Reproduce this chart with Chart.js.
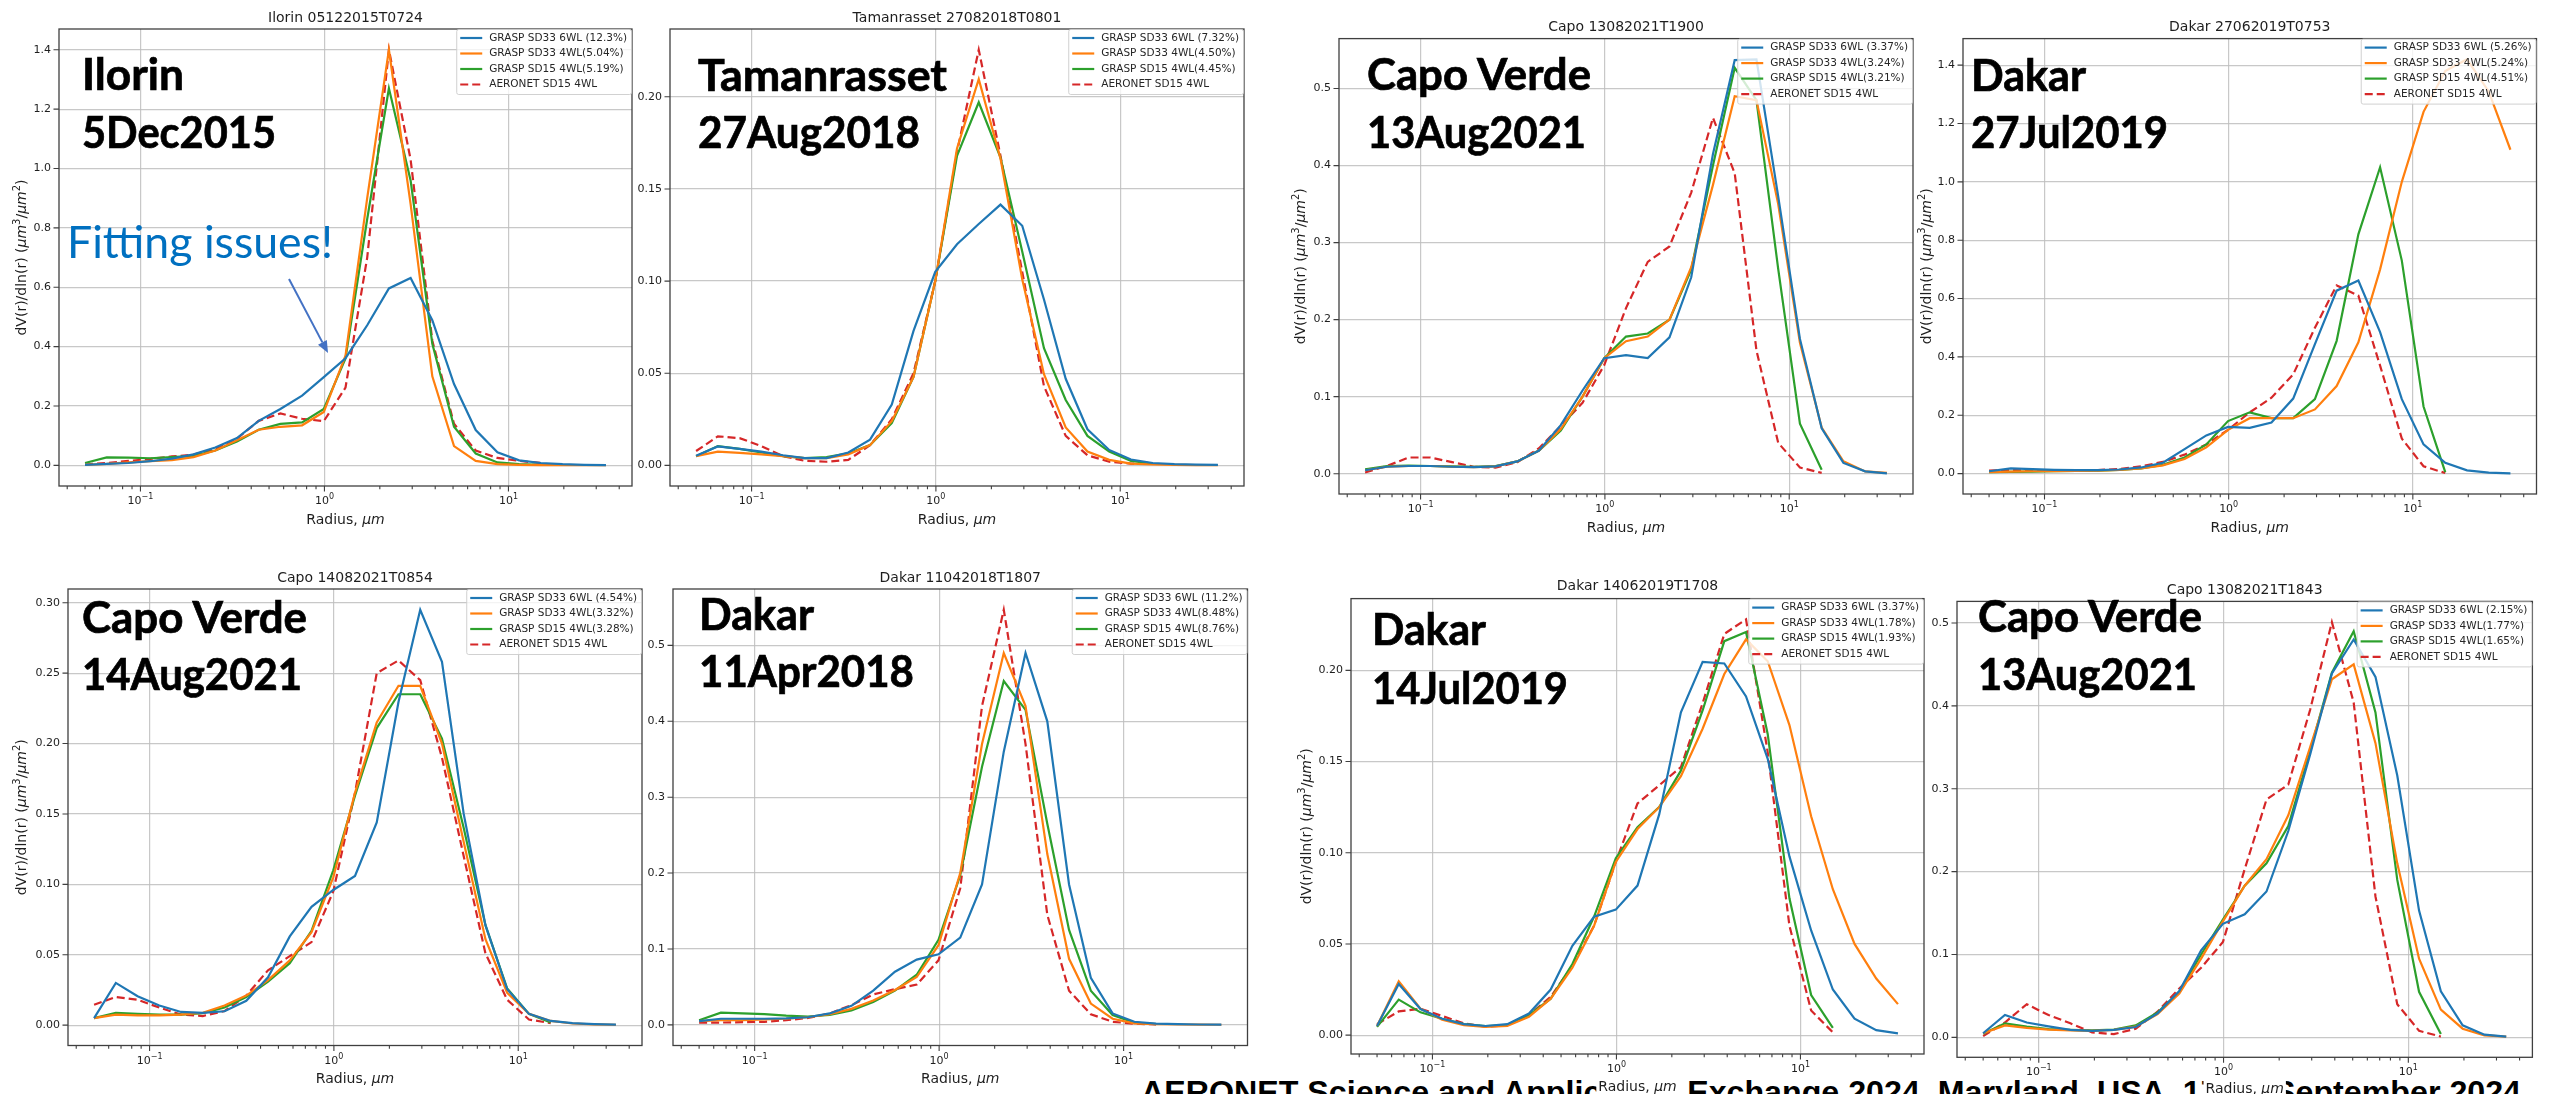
<!DOCTYPE html>
<html>
<head>
<meta charset="utf-8">
<title>Volume size distributions: GRASP vs AERONET</title>
<script src="https://cdn.jsdelivr.net/npm/chart.js@4.4.1/dist/chart.umd.min.js"></script>
<style>
  html, body { margin: 0; padding: 0; background: #fff; width: 2552px; height: 1094px; overflow: hidden; }
  #page { position: relative; width: 2552px; height: 1094px; overflow: hidden; background: #fff; }
  svg.layer { position: absolute; left: 0; top: 0; pointer-events: none; }
</style>
</head>
<body>
<div id="page">
  <svg class="layer" width="2552" height="1094" style="z-index:0">
    <text x="1141" y="1103" font-family="'Liberation Sans', Arial, sans-serif" font-weight="700" font-size="32"
          fill="#000" textLength="1380" lengthAdjust="spacingAndGlyphs">AERONET Science and Application Exchange 2024, Maryland, USA, 17-19 September 2024</text>
  </svg>
  <svg class="layer" width="2552" height="1094" style="z-index:3">
    <g font-family="Lato, 'Open Sans', sans-serif" font-weight="700" font-size="44" fill="#000"
       stroke="#000" stroke-width="0.7">
      <text x="82" y="90" textLength="102" lengthAdjust="spacingAndGlyphs">Ilorin</text>
      <text x="82" y="148" textLength="194" lengthAdjust="spacingAndGlyphs">5Dec2015</text>
      <text x="698" y="91" textLength="249" lengthAdjust="spacingAndGlyphs">Tamanrasset</text>
      <text x="698" y="148" textLength="222" lengthAdjust="spacingAndGlyphs">27Aug2018</text>
      <text x="1367" y="90" textLength="224" lengthAdjust="spacingAndGlyphs">Capo Verde</text>
      <text x="1367" y="148" textLength="219" lengthAdjust="spacingAndGlyphs">13Aug2021</text>
      <text x="1971" y="91" textLength="115" lengthAdjust="spacingAndGlyphs">Dakar</text>
      <text x="1971" y="148" textLength="197" lengthAdjust="spacingAndGlyphs">27Jul2019</text>
      <text x="82" y="633" textLength="225" lengthAdjust="spacingAndGlyphs">Capo Verde</text>
      <text x="82" y="690" textLength="220" lengthAdjust="spacingAndGlyphs">14Aug2021</text>
      <text x="699" y="630" textLength="115" lengthAdjust="spacingAndGlyphs">Dakar</text>
      <text x="699" y="687" textLength="215" lengthAdjust="spacingAndGlyphs">11Apr2018</text>
      <text x="1372" y="645" textLength="114" lengthAdjust="spacingAndGlyphs">Dakar</text>
      <text x="1372" y="704" textLength="196" lengthAdjust="spacingAndGlyphs">14Jul2019</text>
      <text x="1978" y="632" textLength="224" lengthAdjust="spacingAndGlyphs">Capo Verde</text>
      <text x="1978" y="690" textLength="219" lengthAdjust="spacingAndGlyphs">13Aug2021</text>
    </g>
    <text x="67" y="258" font-family="Lato, 'Open Sans', sans-serif" font-size="45" fill="#0070C0"
          textLength="266" lengthAdjust="spacingAndGlyphs">Fitting issues!</text>
    <line x1="289" y1="279" x2="322.4" y2="342.4" stroke="#4472C4" stroke-width="2"/>
    <polygon points="328,353 318.0,344.7 326.8,340.1" fill="#4472C4"/>
  </svg>
</div>
<script>
// ---------------- radius bins (µm) ----------------
const radius22 = [0.05, 0.0656, 0.0861, 0.1129, 0.1482, 0.1944, 0.2551, 0.3347, 0.4392, 0.5762, 0.7561,
                  0.9920, 1.3016, 1.7078, 2.2407, 2.9400, 3.8575, 5.0613, 6.6407, 8.7131, 11.4323, 15.0];
const radius25 = [0.05, 0.0656, 0.0861, 0.1129, 0.1482, 0.1944, 0.2551, 0.3347, 0.4392, 0.5762, 0.7561,
                  0.9920, 1.3016, 1.7078, 2.2407, 2.9400, 3.8575, 5.0613, 6.6407, 8.7131, 11.4323, 15.0,
                  19.681, 25.823, 33.882];

// ---------------- axis ticks ----------------
const radiusMajorTicks = [0.1, 1, 10];
const radiusMajorExponents = ['\u22121', '0', '1'];   // drawn as 10^e
const radiusMinorTicks = [0.04, 0.05, 0.06, 0.07, 0.08, 0.09, 0.2, 0.3, 0.4, 0.5, 0.6, 0.7, 0.8, 0.9,
                          2, 3, 4, 5, 6, 7, 8, 9, 20, 30, 40];

const ilorinYTicks   = ['0.0', '0.2', '0.4', '0.6', '0.8', '1.0', '1.2', '1.4'];
const tamYTicks      = ['0.00', '0.05', '0.10', '0.15', '0.20'];
const capo1900YTicks = ['0.0', '0.1', '0.2', '0.3', '0.4', '0.5'];
const dak27YTicks    = ['0.0', '0.2', '0.4', '0.6', '0.8', '1.0', '1.2', '1.4'];
const capo14YTicks   = ['0.00', '0.05', '0.10', '0.15', '0.20', '0.25', '0.30'];
const dak11YTicks    = ['0.0', '0.1', '0.2', '0.3', '0.4', '0.5'];
const dak14YTicks    = ['0.00', '0.05', '0.10', '0.15', '0.20'];
const capo1843YTicks = ['0.0', '0.1', '0.2', '0.3', '0.4', '0.5'];

// ---------------- legend labels ----------------
const ilorinLegend   = ['GRASP SD33 6WL (12.3%)', 'GRASP SD33 4WL(5.04%)', 'GRASP SD15 4WL(5.19%)', 'AERONET SD15 4WL'];
const tamLegend      = ['GRASP SD33 6WL (7.32%)', 'GRASP SD33 4WL(4.50%)', 'GRASP SD15 4WL(4.45%)', 'AERONET SD15 4WL'];
const capo1900Legend = ['GRASP SD33 6WL (3.37%)', 'GRASP SD33 4WL(3.24%)', 'GRASP SD15 4WL(3.21%)', 'AERONET SD15 4WL'];
const dak27Legend    = ['GRASP SD33 6WL (5.26%)', 'GRASP SD33 4WL(5.24%)', 'GRASP SD15 4WL(4.51%)', 'AERONET SD15 4WL'];
const capo14Legend   = ['GRASP SD33 6WL (4.54%)', 'GRASP SD33 4WL(3.32%)', 'GRASP SD15 4WL(3.28%)', 'AERONET SD15 4WL'];
const dak11Legend    = ['GRASP SD33 6WL (11.2%)', 'GRASP SD33 4WL(8.48%)', 'GRASP SD15 4WL(8.76%)', 'AERONET SD15 4WL'];
const dak14Legend    = ['GRASP SD33 6WL (3.37%)', 'GRASP SD33 4WL(1.78%)', 'GRASP SD15 4WL(1.93%)', 'AERONET SD15 4WL'];
const capo1843Legend = ['GRASP SD33 6WL (2.15%)', 'GRASP SD33 4WL(1.77%)', 'GRASP SD15 4WL(1.65%)', 'AERONET SD15 4WL'];

// ---------------- dV(r)/dln(r) series ----------------
// Ilorin 05122015T0724
const ilorinSD33_6WL = [0.002,0.005,0.008,0.014,0.023,0.037,0.060,0.092,0.150,0.190,0.235,0.297,0.361,0.472,0.596,0.631,0.489,0.274,0.119,0.044,0.017,0.008,0.004,0.002,0.001];
const ilorinSD33_4WL = [0.002,0.005,0.010,0.014,0.018,0.028,0.050,0.085,0.120,0.130,0.135,0.180,0.370,0.900,1.400,0.880,0.300,0.065,0.015,0.004,0.002,0.001,0.001,0.0005,0.0005];
const ilorinSD15_4WL = [0.008,0.027,0.026,0.024,0.028,0.032,0.050,0.080,0.120,0.140,0.145,0.190,0.360,0.830,1.270,0.960,0.410,0.130,0.040,0.010,0.004,0.002];
const ilorinAeronet  = [0.003,0.008,0.015,0.022,0.030,0.036,0.055,0.090,0.150,0.175,0.157,0.149,0.262,0.700,1.400,1.030,0.420,0.140,0.050,0.025,0.015,0.008];

// Tamanrasset 27082018T0801
const tamSD33_6WL = [0.0052,0.0103,0.0090,0.0075,0.0055,0.0040,0.0040,0.0070,0.0140,0.0330,0.0730,0.1050,0.1200,0.1310,0.1415,0.1300,0.0900,0.0470,0.0196,0.0084,0.0032,0.0013,0.0007,0.0004,0.0003];
const tamSD33_4WL = [0.0050,0.0075,0.0068,0.0060,0.0050,0.0040,0.0040,0.0060,0.0110,0.0240,0.0480,0.1000,0.1720,0.2095,0.1665,0.1010,0.0495,0.0206,0.0075,0.0030,0.0010,0.0005,0.0003,0.0002,0.0001];
const tamSD15_4WL = [0.0050,0.0105,0.0090,0.0070,0.0050,0.0040,0.0045,0.0065,0.0110,0.0230,0.0480,0.1000,0.1680,0.1970,0.1670,0.1160,0.0636,0.0355,0.0160,0.0075,0.0025,0.0010];
const tamAeronet  = [0.0078,0.0158,0.0148,0.0105,0.0050,0.0025,0.0020,0.0030,0.0110,0.0250,0.0500,0.1000,0.1700,0.2255,0.1680,0.1050,0.0430,0.0160,0.0055,0.0020,0.0010,0.0008];

// Capo 13082021T1900
const capo1900SD33_6WL = [0.0045,0.0090,0.0100,0.0100,0.0090,0.0085,0.0094,0.0160,0.0300,0.0630,0.1080,0.1500,0.1540,0.1500,0.1770,0.2550,0.4150,0.5370,0.5380,0.3600,0.1750,0.0590,0.0140,0.0030,0.0005];
const capo1900SD33_4WL = [0.0045,0.0090,0.0100,0.0100,0.0090,0.0085,0.0094,0.0160,0.0300,0.0580,0.1000,0.1500,0.1720,0.1780,0.2000,0.2680,0.3750,0.4900,0.4850,0.3500,0.1700,0.0600,0.0160,0.0030,0.0010];
const capo1900SD15_4WL = [0.0055,0.0100,0.0105,0.0100,0.0095,0.0090,0.0100,0.0160,0.0300,0.0560,0.1000,0.1500,0.1780,0.1820,0.2000,0.2650,0.4000,0.5270,0.4850,0.2660,0.0650,0.0050];
const capo1900Aeronet  = [0.0015,0.0100,0.0210,0.0210,0.0150,0.0090,0.0080,0.0150,0.0330,0.0620,0.0920,0.1410,0.2150,0.2750,0.2950,0.3650,0.4620,0.3900,0.1600,0.0400,0.0080,0.0010];

// Dakar 27062019T0753
const dak27SD33_6WL = [0.008,0.018,0.015,0.013,0.012,0.012,0.014,0.021,0.037,0.084,0.131,0.160,0.157,0.175,0.257,0.444,0.627,0.662,0.485,0.255,0.100,0.037,0.011,0.003,0.001];
const dak27SD33_4WL = [0.005,0.007,0.008,0.008,0.009,0.010,0.013,0.018,0.028,0.050,0.090,0.150,0.190,0.190,0.190,0.220,0.300,0.450,0.700,1.000,1.240,1.380,1.420,1.310,1.110];
const dak27SD15_4WL = [0.005,0.006,0.007,0.008,0.009,0.010,0.013,0.018,0.030,0.055,0.100,0.180,0.210,0.190,0.190,0.255,0.455,0.820,1.050,0.730,0.230,0.005];
const dak27Aeronet  = [0.010,0.012,0.011,0.010,0.010,0.012,0.016,0.025,0.040,0.065,0.100,0.150,0.210,0.260,0.340,0.500,0.645,0.610,0.370,0.120,0.025,0.002];

// Capo 14082021T0854
const capo14SD33_6WL = [0.005,0.030,0.0205,0.014,0.0094,0.0087,0.0099,0.0173,0.034,0.063,0.084,0.096,0.106,0.144,0.2295,0.295,0.258,0.150,0.071,0.0255,0.008,0.003,0.0015,0.0008,0.0004];
const capo14SD33_4WL = [0.005,0.0075,0.007,0.007,0.0075,0.0088,0.014,0.021,0.032,0.046,0.066,0.105,0.165,0.215,0.241,0.241,0.200,0.130,0.061,0.023,0.008,0.003,0.0012,0.0006,0.0003];
const capo14SD15_4WL = [0.005,0.0088,0.008,0.0075,0.0075,0.0085,0.0125,0.020,0.031,0.044,0.067,0.110,0.163,0.211,0.235,0.235,0.2035,0.140,0.071,0.026,0.008,0.002];
const capo14Aeronet  = [0.0145,0.020,0.018,0.0125,0.0075,0.0065,0.010,0.021,0.039,0.049,0.059,0.095,0.165,0.250,0.259,0.245,0.190,0.120,0.051,0.018,0.004,0.0015];

// Dakar 11042018T1807
const dak11SD33_6WL = [0.005,0.008,0.008,0.008,0.0085,0.010,0.015,0.025,0.045,0.070,0.086,0.093,0.115,0.185,0.360,0.490,0.400,0.185,0.062,0.015,0.004,0.0015,0.0008,0.0004,0.0002];
const dak11SD33_4WL = [0.005,0.006,0.006,0.007,0.008,0.010,0.014,0.021,0.032,0.046,0.063,0.105,0.200,0.370,0.490,0.420,0.225,0.087,0.028,0.008,0.002,0.0008,0.0004,0.0002,0.0001];
const dak11SD15_4WL = [0.006,0.016,0.015,0.014,0.012,0.011,0.013,0.019,0.030,0.045,0.066,0.112,0.197,0.340,0.453,0.415,0.265,0.125,0.045,0.013,0.003,0.001];
const dak11Aeronet  = [0.003,0.003,0.0035,0.004,0.006,0.009,0.015,0.026,0.040,0.047,0.053,0.085,0.180,0.420,0.547,0.370,0.145,0.045,0.014,0.004,0.0015,0.0005];

// Dakar 14062019T1708
const dak14SD33_6WL = [0.005,0.028,0.0143,0.009,0.006,0.005,0.006,0.0118,0.025,0.049,0.065,0.0688,0.082,0.121,0.177,0.2047,0.2038,0.1857,0.1515,0.098,0.0574,0.025,0.009,0.0027,0.001];
const dak14SD33_4WL = [0.005,0.0295,0.0145,0.0085,0.0055,0.0045,0.005,0.010,0.020,0.037,0.060,0.095,0.113,0.125,0.142,0.168,0.198,0.217,0.205,0.170,0.120,0.080,0.050,0.031,0.017];
const dak14SD15_4WL = [0.0045,0.0195,0.0125,0.009,0.006,0.005,0.0055,0.011,0.020,0.039,0.065,0.097,0.114,0.125,0.145,0.178,0.216,0.221,0.165,0.075,0.022,0.004];
const dak14Aeronet  = [0.006,0.013,0.0145,0.0105,0.0065,0.0045,0.0055,0.011,0.021,0.038,0.060,0.095,0.127,0.137,0.147,0.182,0.220,0.228,0.155,0.060,0.0135,0.0015];

// Capo 13082021T1843
const capo1843SD33_6WL = [0.005,0.027,0.018,0.0134,0.009,0.008,0.009,0.0125,0.029,0.056,0.105,0.137,0.1485,0.176,0.249,0.341,0.439,0.480,0.435,0.316,0.153,0.0556,0.0146,0.0033,0.001];
const capo1843SD33_4WL = [0.005,0.0145,0.0115,0.0095,0.0085,0.008,0.009,0.013,0.028,0.053,0.095,0.140,0.183,0.215,0.268,0.350,0.432,0.450,0.355,0.210,0.095,0.0335,0.0105,0.0025,0.001];
const capo1843SD15_4WL = [0.0045,0.017,0.013,0.010,0.009,0.0085,0.0095,0.0145,0.030,0.055,0.100,0.142,0.183,0.210,0.255,0.345,0.440,0.490,0.392,0.190,0.055,0.004];
const capo1843Aeronet  = [0.0015,0.018,0.040,0.027,0.017,0.006,0.004,0.0105,0.031,0.059,0.084,0.115,0.203,0.287,0.305,0.395,0.501,0.404,0.170,0.040,0.008,0.001];

// ---------------- panel layout (page pixels) ----------------
// canvas: [left, top, right, bottom]; box: plot-area [left, top, right, bottom]
const panels = [
  { title: 'Ilorin 05122015T0724', series: [ilorinSD33_6WL, ilorinSD33_4WL, ilorinSD15_4WL, ilorinAeronet],
    legend: ilorinLegend, yTicks: ilorinYTicks,
    canvas: [0, 0, 636, 545], box: [59, 29, 632, 486], titleY: 18, ylabelX: 21, xlabelY: 519 },
  { title: 'Tamanrasset 27082018T0801', series: [tamSD33_6WL, tamSD33_4WL, tamSD15_4WL, tamAeronet],
    legend: tamLegend, yTicks: tamYTicks,
    canvas: [636, 0, 1250, 545], box: [670, 29, 1244, 486], titleY: 18, ylabelX: null, xlabelY: 519 },
  { title: 'Capo 13082021T1900', series: [capo1900SD33_6WL, capo1900SD33_4WL, capo1900SD15_4WL, capo1900Aeronet],
    legend: capo1900Legend, yTicks: capo1900YTicks,
    canvas: [1285, 0, 1914, 545], box: [1339, 38.6, 1913, 494], titleY: 27.6, ylabelX: 1300, xlabelY: 527 },
  { title: 'Dakar 27062019T0753', series: [dak27SD33_6WL, dak27SD33_4WL, dak27SD15_4WL, dak27Aeronet],
    legend: dak27Legend, yTicks: dak27YTicks,
    canvas: [1914, 0, 2552, 545], box: [1963, 38.6, 2536.5, 494], titleY: 27.6, ylabelX: 1926, xlabelY: 527 },
  { title: 'Capo 14082021T0854', series: [capo14SD33_6WL, capo14SD33_4WL, capo14SD15_4WL, capo14Aeronet],
    legend: capo14Legend, yTicks: capo14YTicks,
    canvas: [0, 550, 646, 1110], box: [68, 589, 642, 1045.5], titleY: 578, ylabelX: 21, xlabelY: 1078 },
  { title: 'Dakar 11042018T1807', series: [dak11SD33_6WL, dak11SD33_4WL, dak11SD15_4WL, dak11Aeronet],
    legend: dak11Legend, yTicks: dak11YTicks,
    canvas: [646, 550, 1260, 1110], box: [673, 589, 1247.5, 1045.5], titleY: 578, ylabelX: null, xlabelY: 1078 },
  { title: 'Dakar 14062019T1708', series: [dak14SD33_6WL, dak14SD33_4WL, dak14SD15_4WL, dak14Aeronet],
    legend: dak14Legend, yTicks: dak14YTicks,
    canvas: [1285, 550, 1925, 1110], box: [1351, 598.6, 1924, 1054], titleY: 586, ylabelX: 1306, xlabelY: 1086, maskXTitle: true },
  { title: 'Capo 13082021T1843', series: [capo1843SD33_6WL, capo1843SD33_4WL, capo1843SD15_4WL, capo1843Aeronet],
    legend: capo1843Legend, yTicks: capo1843YTicks,
    canvas: [1925, 550, 2552, 1110], box: [1957, 601.4, 2532.4, 1057.3], titleY: 590.6, ylabelX: null, xlabelY: 1088, maskXTitle: true }
];

// ---------------- styling ----------------
const LINE_COLORS = ['#1f77b4', '#ff7f0e', '#2ca02c', '#d62728'];
const GRID = 'rgba(190,190,190,0.85)';
const FRAME = '#3f3f3f';
const TEXT = '#1e1e1e';
const FONT = '"DejaVu Sans", "Liberation Sans", sans-serif';

// axis titles with italic µm and raised exponents (mathtext look)
const X_TITLE = [{ t: 'Radius, ', size: 14 }, { t: '\u03BCm', size: 14, italic: true }];
const Y_TITLE = [
  { t: 'dV(r)/dln(r) (', size: 14 }, { t: '\u03BCm', size: 14, italic: true }, { t: '3', size: 10, dy: -6 },
  { t: '/', size: 14 }, { t: '\u03BCm', size: 14, italic: true }, { t: '2', size: 10, dy: -6 }, { t: ')', size: 14 }
];

Chart.defaults.font.family = FONT;
Chart.defaults.color = TEXT;

const fontOf = s => (s.italic ? 'italic ' : '') + s.size + 'px ' + FONT;
function richWidth(ctx, segs) {
  let w = 0;
  segs.forEach(s => { ctx.font = fontOf(s); w += ctx.measureText(s.t).width; });
  return w;
}
// draws a run of segments centred on x with its baseline at y
function drawRich(ctx, segs, x, y) {
  let cx = x - richWidth(ctx, segs) / 2;
  ctx.textAlign = 'left';
  ctx.textBaseline = 'alphabetic';
  segs.forEach(s => {
    ctx.font = fontOf(s);
    ctx.fillText(s.t, cx, y + (s.dy || 0));
    cx += ctx.measureText(s.t).width;
  });
}

// axis frame, matplotlib-style ticks, inset legend, titles
const panelDecor = {
  id: 'panelDecor',
  beforeDraw(chart, args, o) {
    if (!o.maskXTitle) return;
    const ctx = chart.ctx, a = chart.chartArea;
    ctx.save();
    const w = richWidth(ctx, X_TITLE) + 4;
    const cx = (a.left + a.right) / 2;
    ctx.fillStyle = '#ffffff';
    ctx.fillRect(cx - w / 2, o.xTitleY - 9, w, chart.height - (o.xTitleY - 9));
    ctx.restore();
  },
  afterDatasetsDraw(chart, args, o) {
    const ctx = chart.ctx, a = chart.chartArea;
    const xs = chart.scales.x, ys = chart.scales.y;
    ctx.save();
    // tick marks (outward)
    ctx.strokeStyle = FRAME;
    ctx.lineWidth = 1.1;
    ctx.beginPath();
    radiusMajorTicks.forEach(v => { const p = xs.getPixelForValue(v); ctx.moveTo(p, a.bottom); ctx.lineTo(p, a.bottom + 5.5); });
    radiusMinorTicks.forEach(v => { const p = xs.getPixelForValue(v); ctx.moveTo(p, a.bottom); ctx.lineTo(p, a.bottom + 3.2); });
    o.yValues.forEach(v => { const p = ys.getPixelForValue(v); ctx.moveTo(a.left, p); ctx.lineTo(a.left - 5.5, p); });
    ctx.stroke();
    // frame
    ctx.lineWidth = 1.3;
    ctx.strokeRect(a.left, a.top, a.right - a.left, a.bottom - a.top);
    // legend
    ctx.font = '10.5px ' + FONT;
    const sets = chart.data.datasets;
    const tw = Math.max(...sets.map(d => ctx.measureText(d.label).width));
    const lw = 33 + tw + 5, lh = 65;
    const lx = a.right - lw, ly = a.top;
    ctx.fillStyle = 'rgba(255,255,255,0.8)';
    ctx.strokeStyle = 'rgba(204,204,204,0.9)';
    ctx.lineWidth = 1;
    ctx.beginPath();
    ctx.roundRect(lx + 0.5, ly + 0.5, lw - 1, lh, 2);
    ctx.fill();
    ctx.stroke();
    const rows = [9, 24.5, 40, 55.5];
    sets.forEach((d, i) => {
      ctx.strokeStyle = d.borderColor;
      ctx.lineWidth = d.borderWidth;
      ctx.setLineDash(d.borderDash || []);
      ctx.beginPath();
      ctx.moveTo(lx + 4, ly + rows[i]);
      ctx.lineTo(lx + 26, ly + rows[i]);
      ctx.stroke();
      ctx.setLineDash([]);
      ctx.fillStyle = '#262626';
      ctx.textAlign = 'left';
      ctx.textBaseline = 'middle';
      ctx.fillText(d.label, lx + 33, ly + rows[i]);
    });
    ctx.fillStyle = TEXT;
    // x tick labels 10^n
    radiusMajorTicks.forEach((v, i) => {
      drawRich(ctx, [{ t: '10', size: 11 }, { t: radiusMajorExponents[i], size: 8, dy: -5 }],
               xs.getPixelForValue(v), a.bottom + 18);
    });
    // axis titles
    drawRich(ctx, X_TITLE, (a.left + a.right) / 2, o.xTitleY + 5);
    if (o.yTitleX !== null) {
      ctx.save();
      ctx.translate(o.yTitleX + 5, (a.top + a.bottom) / 2);
      ctx.rotate(-Math.PI / 2);
      drawRich(ctx, Y_TITLE, 0, 0);
      ctx.restore();
    }
    // panel title
    ctx.font = '14px ' + FONT;
    ctx.textAlign = 'center';
    ctx.textBaseline = 'middle';
    ctx.fillText(o.title, (a.left + a.right) / 2, o.titleY);
    ctx.restore();
  }
};

const page = document.getElementById('page');

// x limits: 5% log-space margin around the radius range
const logLo = Math.log10(radius25[0]), logHi = Math.log10(radius25[radius25.length - 1]);
const logPad = 0.05 * (logHi - logLo);
const xMin = Math.pow(10, logLo - logPad), xMax = Math.pow(10, logHi + logPad);
const xTickValues = radiusMinorTicks.concat(radiusMajorTicks).sort((a, b) => a - b);
const isMajorX = v => radiusMajorTicks.some(m => Math.abs(m - v) / m < 1e-6);

panels.forEach(p => {
  const [cl, ct, cr, cb] = p.canvas;
  const [bl, bt, br, bb] = p.box;
  const W = cr - cl, H = cb - ct;
  const cv = document.createElement('canvas');
  cv.width = W; cv.height = H;
  cv.style.cssText = `position:absolute;left:${cl}px;top:${ct}px;width:${W}px;height:${H}px;z-index:1;`;
  page.appendChild(cv);

  const all = p.series.flat();
  const lo = Math.min(...all), hi = Math.max(...all);
  const yMin = lo - 0.05 * (hi - lo), yMax = hi + 0.05 * (hi - lo);
  const yValues = p.yTicks.map(Number);

  const radii = [radius25, radius25, radius22, radius22];
  const datasets = p.series.map((vals, i) => ({
    label: p.legend[i],
    data: vals.map((y, k) => ({ x: radii[i][k], y })),
    borderColor: LINE_COLORS[i],
    backgroundColor: LINE_COLORS[i],
    borderWidth: 2.2,
    borderDash: i === 3 ? [8, 4] : undefined,
    pointRadius: 0,
    tension: 0,
    fill: false
  }));

  new Chart(cv.getContext('2d'), {
    type: 'line',
    data: { datasets },
    options: {
      responsive: false,
      animation: false,
      devicePixelRatio: 1,
      events: [],
      layout: { padding: { left: 0, top: bt - ct, right: cr - br, bottom: 0 } },
      plugins: {
        legend: { display: false },
        tooltip: { enabled: false },
        title: { display: false },
        panelDecor: { title: p.title, titleY: p.titleY - ct, yValues,
                      maskXTitle: !!p.maskXTitle, xTitleY: p.xlabelY - ct,
                      yTitleX: p.ylabelX !== null ? p.ylabelX - cl : null }
      },
      scales: {
        x: {
          type: 'logarithmic',
          bounds: 'data',
          min: xMin, max: xMax,
          offset: false,
          afterBuildTicks: s => { s.ticks = xTickValues.map(v => ({ value: v })); },
          afterFit: s => { s.height = cb - bb; },
          grid: { drawTicks: false, lineWidth: 1.2,
                  color: c => (c.tick && isMajorX(c.tick.value)) ? GRID : 'rgba(0,0,0,0)' },
          border: { display: false },
          ticks: { autoSkip: false, maxRotation: 0, minRotation: 0, callback: () => '' },
          title: { display: false }
        },
        y: {
          type: 'linear',
          bounds: 'data',
          min: yMin, max: yMax,
          afterBuildTicks: s => { s.ticks = yValues.map(v => ({ value: v })); },
          afterFit: s => { s.width = bl - cl; },
          grid: { drawTicks: false, lineWidth: 1.2, color: GRID },
          border: { display: false },
          ticks: { autoSkip: false, padding: 8, font: { size: 11 }, color: TEXT,
                   callback: (v, i) => p.yTicks[i] },
          title: { display: false }
        }
      }
    },
    plugins: [panelDecor]
  });
});
</script>
</body>
</html>
